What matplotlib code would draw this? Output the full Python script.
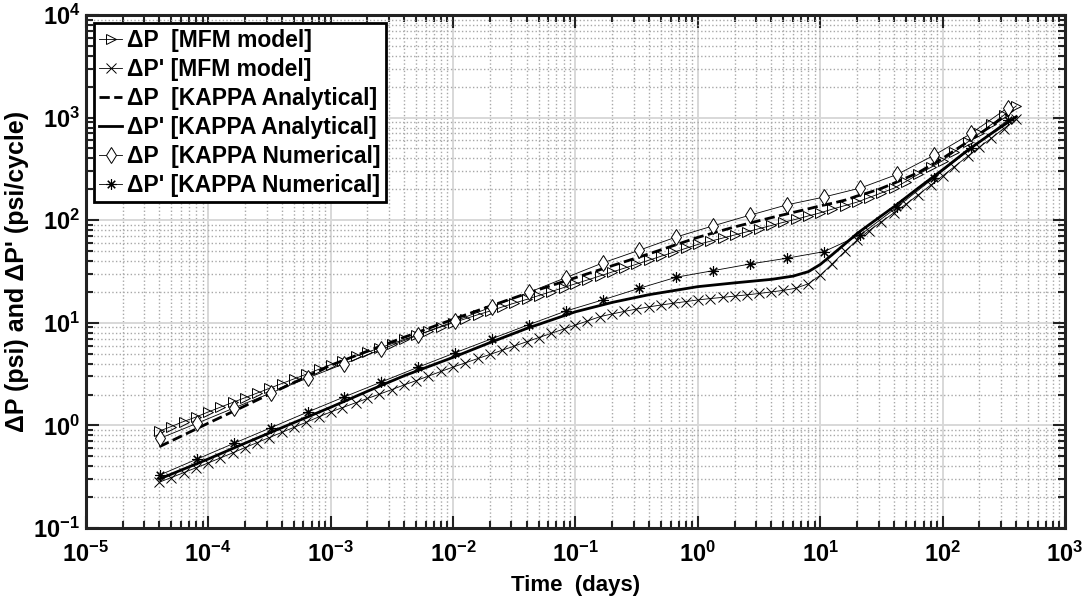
import numpy as np
import matplotlib.pyplot as plt
from matplotlib.ticker import LogLocator, FixedLocator, FuncFormatter, NullFormatter

plt.rcParams['font.family'] = ['Liberation Sans', 'DejaVu Sans']
plt.rcParams['font.weight'] = 'bold'
plt.rcParams['mathtext.fontset'] = 'custom'
plt.rcParams['mathtext.bf'] = 'Liberation Sans:bold'
plt.rcParams['mathtext.rm'] = 'Liberation Sans:bold'

# MFM model (dense output)
t_mfm = [4e-5, 5e-5, 6.3e-5, 8e-5,
         1e-4, 1.25e-4, 1.6e-4, 2e-4, 2.5e-4, 3.15e-4, 4e-4, 5e-4, 6.3e-4, 8e-4,
         1e-3, 1.25e-3, 1.6e-3, 2e-3, 2.5e-3, 3.15e-3, 4e-3, 5e-3, 6.3e-3, 8e-3,
         1e-2, 1.25e-2, 1.6e-2, 2e-2, 2.5e-2, 3.15e-2, 4e-2, 5e-2, 6.3e-2, 8e-2,
         0.1, 0.125, 0.16, 0.2, 0.25, 0.315, 0.4, 0.5, 0.63, 0.8,
         1, 1.25, 1.6, 2, 2.5, 3.15, 4, 5, 6.3, 8,
         10, 12.5, 16, 20, 25, 31.5, 40, 50, 63, 80,
         100, 125, 160, 200, 250, 315, 400]
dp_mfm = [0.88, 0.975, 1.09, 1.21,
          1.35, 1.50, 1.68, 1.86, 2.06, 2.29, 2.56, 2.83, 3.15, 3.52,
          3.90, 4.27, 4.72, 5.17, 5.67, 6.23, 6.88, 7.53, 8.27, 9.13,
          10.0, 10.9, 12.0, 13.0, 14.2, 15.5, 16.9, 18.4, 20.1, 22.0,
          24.0, 26.1, 28.7, 31.3, 34.0, 37.2, 40.8, 44.5, 48.6, 53.2,
          58.0, 62.1, 67.0, 71.8, 76.9, 82.6, 88.9, 95.3, 102, 110,
          118, 128, 139, 150, 166, 184, 205, 238, 279, 327,
          380, 463, 577, 703, 857, 1052, 1300]
dpd_mfm = [0.28, 0.31, 0.346, 0.387,
           0.43, 0.48, 0.542, 0.607, 0.678, 0.76, 0.855, 0.955, 1.07, 1.21,
           1.35, 1.49, 1.66, 1.83, 2.01, 2.23, 2.48, 2.73, 3.02, 3.36,
           3.70, 4.05, 4.49, 4.91, 5.38, 5.92, 6.53, 7.16, 7.87, 8.68,
           9.5, 10.4, 11.5, 12.2, 12.9, 13.6, 14.3, 14.9, 15.5, 16.1,
           16.7, 17.2, 17.7, 18.2, 18.7, 19.3, 20.0, 20.7, 21.7, 24.0,
           29.0, 37.5, 50, 64, 79, 96, 118, 143, 176, 220,
           270, 333, 420, 515, 630, 780, 960]

# KAPPA analytical
t_ana = [4e-5, 1e-4, 2e-4, 4e-4, 1e-3, 2e-3, 4e-3, 1e-2, 2e-2, 4e-2,
         0.1, 0.2, 0.4, 1, 2, 4, 6, 8, 10, 12.5, 16, 20, 25, 31.5, 40,
         63, 100, 160, 250, 400]
dp_ana = [0.62, 1.05, 1.55, 2.3, 3.85, 5.29, 7.23, 10.8, 14.5, 19.3,
          27.5, 36, 47, 68, 86, 106, 119, 129, 138, 146, 157, 172, 186, 204, 229,
          290, 400, 580, 830, 1250]
dpd_ana = [0.30, 0.47, 0.67, 0.95, 1.5, 2.15, 3.05, 4.6, 6.4, 8.8,
           12.8, 15.8, 18.8, 22.5, 24.5, 26.5, 28.5, 31.5, 37, 46, 59, 74, 90, 110, 135,
           205, 310, 480, 700, 1020]

# KAPPA numerical
t_num = [4.07e-5, 8.14e-5, 1.63e-4, 3.26e-4, 6.51e-4, 1.30e-3, 2.60e-3, 5.21e-3,
         1.04e-2, 2.08e-2, 4.17e-2, 8.33e-2, 0.167, 0.333, 0.667, 1.33, 2.67, 5.33,
         10.7, 21.3, 42.7, 85.3, 171, 341]
dp_num = [0.75, 1.05, 1.48, 2.07, 2.9, 4.0, 5.5, 7.6,
          10.4, 14.3, 19.8, 27.5, 38.3, 51, 68.6, 88, 112, 141,
          168, 206, 280, 430, 700, 1250]
dpd_num = [0.33, 0.47, 0.67, 0.95, 1.35, 1.9, 2.65, 3.7,
           5.1, 7.0, 9.6, 13.0, 16.7, 21.7, 27.8, 32.2, 37.4, 42.6,
           49.3, 72, 135, 260, 500, 950]

x_decades = [1e-5, 1e-4, 1e-3, 1e-2, 1e-1, 1e0, 1e1, 1e2, 1e3]
y_decades = [1e-1, 1e0, 1e1, 1e2, 1e3, 1e4]

fig = plt.figure(figsize=(10.92, 6.05), dpi=100)
ax = fig.add_axes([0.0785, 0.1273, 0.8968, 0.8479])

ax.loglog(t_mfm, dp_mfm, '-', color='k', lw=0.6, marker='>', ms=7, mfc='none', mew=0.7,
          label="ΔP  [MFM model]")
ax.loglog(t_mfm, dpd_mfm, '-', color='k', lw=0.6, marker='x', ms=6.5, mew=0.7,
          label="ΔP' [MFM model]")
ax.loglog(t_ana, dp_ana, '--', color='k', lw=2, label="ΔP  [KAPPA Analytical]")
ax.loglog(t_ana, dpd_ana, '-', color='k', lw=2, label="ΔP' [KAPPA Analytical]")
ax.loglog(t_num, dp_num, '-', color='k', lw=0.6, marker='d', ms=8, mfc='white', mew=0.7,
          label="ΔP  [KAPPA Numerical]")
ax.loglog(t_num, dpd_num, '-', color='k', lw=0.6, marker=(8, 2, 0), ms=7.5, mew=0.8,
          label="ΔP' [KAPPA Numerical]")

ax.set_xlim(x_decades[0], x_decades[-1])
ax.set_ylim(y_decades[0], y_decades[-1])
ax.xaxis.set_major_locator(FixedLocator(x_decades))
ax.yaxis.set_major_locator(FixedLocator(y_decades))
ax.xaxis.set_minor_locator(LogLocator(base=10, subs=np.arange(2, 10), numticks=20))
ax.yaxis.set_minor_locator(LogLocator(base=10, subs=np.arange(2, 10), numticks=20))
fmt = FuncFormatter(lambda v, p: r'$\mathbf{10^{%d}}$' % int(round(np.log10(v))))
ax.xaxis.set_major_formatter(fmt)
ax.yaxis.set_major_formatter(fmt)
ax.xaxis.set_minor_formatter(NullFormatter())
ax.yaxis.set_minor_formatter(NullFormatter())

ax.grid(True, which='major', color='#d8d8d8', lw=1.4, ls='-')
ax.grid(True, which='minor', color='#a8a8a8', lw=1.0, ls=':')
ax.set_axisbelow(True)
ax.tick_params(which='both', direction='in', top=True, right=True, width=1.5,
               labelsize=17, color='#222222')
ax.tick_params(axis='y', pad=4)
ax.tick_params(axis='x', pad=10)
ax.tick_params(which='major', length=9)
ax.tick_params(which='minor', length=5)
for s in ax.spines.values():
    s.set_linewidth(2.2)
    s.set_color('#222222')

ax.set_xlabel('Time  (days)', fontsize=16, fontweight='bold', labelpad=6)
ax.set_ylabel("ΔP (psi) and ΔP' (psi/cycle)", fontsize=18, fontweight='bold', labelpad=3)

leg = ax.legend(loc='upper left', fontsize=16.5, handlelength=1.0, handletextpad=0.2,
                labelspacing=0.26, borderaxespad=0.35, borderpad=0.25,
                fancybox=False, framealpha=1)
leg.get_frame().set_edgecolor('k')
leg.get_frame().set_linewidth(2)
for txt in leg.get_texts():
    txt.set_fontweight('bold')

fig.savefig('out.png', dpi=100)
